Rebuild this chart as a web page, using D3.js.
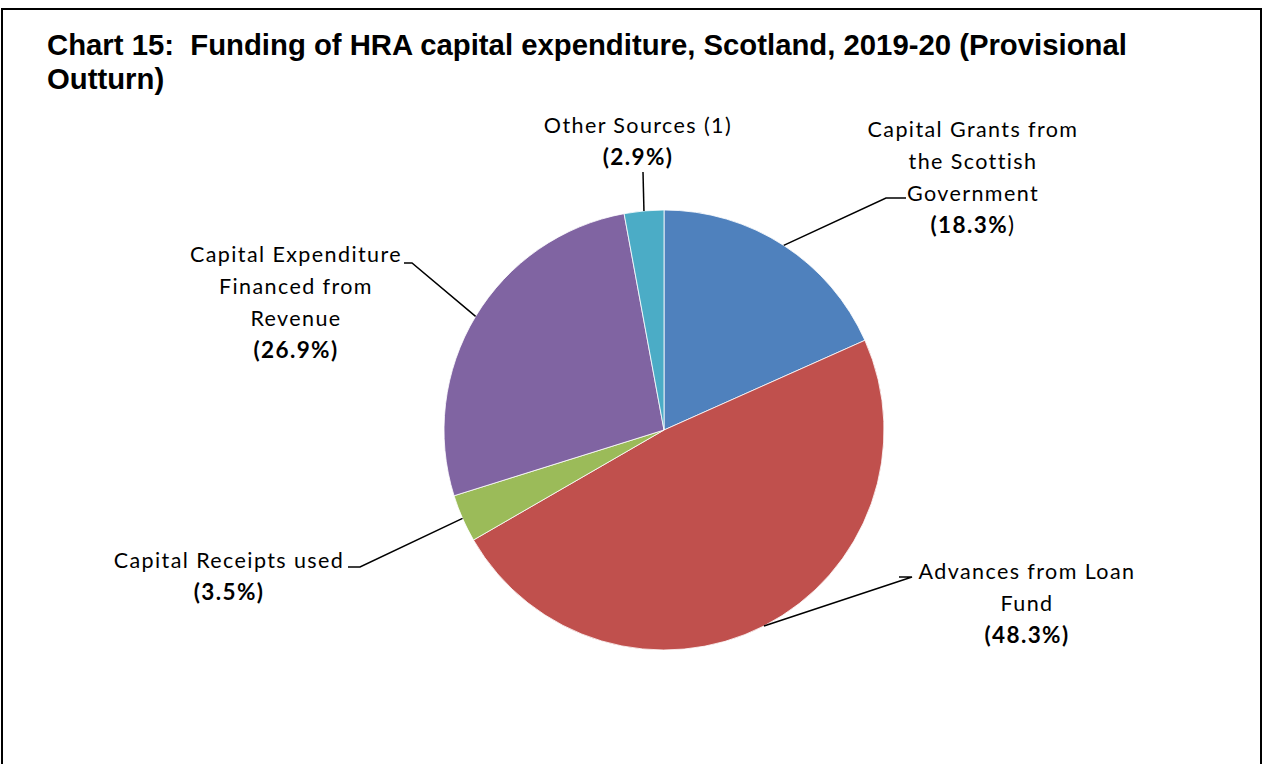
<!DOCTYPE html>
<html>
<head>
<meta charset="utf-8">
<script src="https://cdn.jsdelivr.net/npm/d3@7/dist/d3.min.js"></script>
<style>
  html, body { margin: 0; padding: 0; background: #fff; }
  svg { display: block; }
</style>
</head>
<body>
<svg id="chart" width="1264" height="764"></svg>
<script>
// Funding sources of HRA capital expenditure, Scotland 2019-20 (percent of total)
const categories = [
  "Capital Grants from the Scottish Government",
  "Advances from Loan Fund",
  "Capital Receipts used",
  "Capital Expenditure Financed from Revenue",
  "Other Sources (1)"
];
const shares = [18.3, 48.3, 3.5, 26.9, 2.9];
const sliceColours = ["#4F81BD", "#C0504D", "#9BBB59", "#8064A2", "#4BACC6"];

// Label text, broken into lines as drawn
const labelLines = [
  ["Capital Grants from", "the Scottish", "Government"],
  ["Advances from Loan", "Fund"],
  ["Capital Receipts used"],
  ["Capital Expenditure", "Financed from", "Revenue"],
  ["Other Sources (1)"]
];

const titleLines = [
  "Chart 15:  Funding of HRA capital expenditure, Scotland, 2019-20 (Provisional",
  "Outturn)"
];

// Layout: label block centre x, first baseline y, elbow of leader line
const layout = [
  { x: 973, y: 137, elbow: [886, 198], tail: [906, 198] },
  { x: 1027, y: 579, elbow: [912, 577], tail: [899, 577] },
  { x: 229, y: 568, elbow: [360, 567], tail: [348, 567] },
  { x: 296, y: 262, elbow: [412, 263], tail: [404, 263] },
  { x: 638, y: 133, elbow: [643, 172], tail: [643, 172] }
];

const svg = d3.select("#chart");
const cx = 664, cy = 430, R = 220;
const lineH = 32;

// Outer frame
svg.append("rect")
  .attr("x", 2).attr("y", 9)
  .attr("width", 1259).attr("height", 800)
  .attr("fill", "#fff")
  .attr("stroke", "#000").attr("stroke-width", 2);

// Title
const title = svg.append("text")
  .attr("font-family", "Liberation Sans, Arial, sans-serif")
  .attr("font-weight", "bold")
  .attr("font-size", 29.3)
  .attr("fill", "#000");
titleLines.forEach((t, i) => {
  title.append("tspan").attr("x", 47).attr("y", 55 + i * 34).attr("xml:space", "preserve").text(t);
});

// Pie
const pie = d3.pie().sort(null).value(d => d);
const arcs = pie(shares);
const arc = d3.arc().innerRadius(0).outerRadius(R);

const g = svg.append("g").attr("transform", `translate(${cx},${cy})`);
g.selectAll("path.slice")
  .data(arcs)
  .join("path")
  .attr("class", "slice")
  .attr("d", arc)
  .attr("fill", (d, i) => sliceColours[i])
  .attr("stroke", "#fff")
  .attr("stroke-width", 0.8);

// Leader lines: from the arc edge at each slice's mid-angle to the label
const edgePoint = d => {
  const a = (d.startAngle + d.endAngle) / 2;
  return [cx + R * Math.sin(a), cy - R * Math.cos(a)];
};
svg.selectAll("polyline.leader")
  .data(arcs)
  .join("polyline")
  .attr("class", "leader")
  .attr("points", (d, i) => {
    const p = edgePoint(d);
    const L = layout[i];
    return [p, L.elbow, L.tail].map(q => q.join(",")).join(" ");
  })
  .attr("fill", "none")
  .attr("stroke", "#000")
  .attr("stroke-width", 1.5);

// Labels
const fmt = v => v.toFixed(1) + "%";
arcs.forEach((d, i) => {
  const L = layout[i];
  const t = svg.append("text")
    .attr("font-family", "Lato, 'Open Sans', sans-serif")
    .attr("font-size", 21.5)
    .attr("letter-spacing", 1.4)
    .attr("text-anchor", "middle")
    .attr("fill", "#000");
  labelLines[i].forEach((line, j) => {
    t.append("tspan").attr("x", L.x).attr("y", L.y + j * lineH).text(line);
  });
  const vy = L.y + labelLines[i].length * lineH;
  const v = t.append("tspan").attr("x", L.x).attr("y", vy).attr("font-size", 22.5);
  if (i === 0) {
    v.append("tspan").attr("font-weight", "bold").text("(" + fmt(d.data));
    v.append("tspan").text(")");
  } else {
    v.attr("font-weight", "bold").text("(" + fmt(d.data) + ")");
  }
});
</script>
</body>
</html>
